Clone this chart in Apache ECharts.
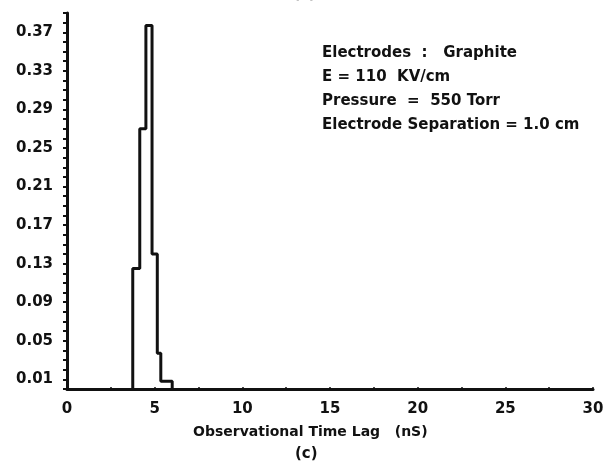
<!DOCTYPE html>
<html>
<head>
<meta charset="utf-8">
<script src="https://cdn.jsdelivr.net/npm/echarts@6/dist/echarts.min.js"></script>
<style>
html, body { margin: 0; padding: 0; background: #fff; }
#chart { width: 609px; height: 473px; }
</style>
</head>
<body>
<div id="chart"></div>
<script>
// histogram bins, observational time lag (nS)
var binEdges = [3.75, 4.15, 4.5, 4.85, 5.15, 5.35, 6.0];
var binValues = [0.125, 0.27, 0.377, 0.14, 0.037, 0.008];
var yTickLabels = [0.01, 0.05, 0.09, 0.13, 0.17, 0.21, 0.25, 0.29, 0.33, 0.37];
var xTickLabels = [0, 5, 10, 15, 20, 25, 30];
var notes = [
	'Electrodes  :   Graphite',
	'E = 110  KV/cm',
	'Pressure  =  550 Torr',
	'Electrode Separation = 1.0 cm'
];

// outline of the histogram
var outline = [[binEdges[0], 0]];
for (var i = 0; i < binValues.length; i++) {
	outline.push([binEdges[i], binValues[i]]);
	outline.push([binEdges[i + 1], binValues[i]]);
}
outline.push([binEdges[binEdges.length - 1], 0]);

var font = 'DejaVu Sans';
var chart = echarts.init(document.getElementById('chart'));

var noteText = notes.map(function (t, i) {
	return {
		type: 'text',
		left: 322,
		top: 46 + i * 24,
		style: { text: t, font: 'bold 15px "' + font + '"', fill: '#111' }
	};
});

option = {
	backgroundColor: '#fff',
	animation: false,
	grid: { left: 67, right: 16, top: 13, bottom: 84, containLabel: false },
	xAxis: {
		type: 'value',
		min: 0,
		max: 30,
		interval: 5,
		axisLine: { lineStyle: { color: '#111', width: 3 } },
		axisTick: { show: true, inside: true, length: 2, lineStyle: { color: '#111', width: 1.5 } },
		minorTick: { show: true, splitNumber: 2, length: 2, lineStyle: { color: '#111', width: 1.5 } },
		splitLine: { show: false },
		axisLabel: {
			margin: 13,
			color: '#111',
			fontFamily: font,
			fontWeight: 'bold',
			fontSize: 15,
			formatter: function (v) {
				return xTickLabels.indexOf(v) >= 0 ? String(v) : '';
			}
		}
	},
	yAxis: {
		type: 'value',
		min: 0,
		max: 0.39,
		interval: 0.01,
		axisLine: { show: true, lineStyle: { color: '#111', width: 3 } },
		axisTick: { show: true, length: 4, lineStyle: { color: '#111', width: 2 } },
		splitLine: { show: false },
		axisLabel: {
			margin: 14,
			color: '#111',
			fontFamily: font,
			fontWeight: 'bold',
			fontSize: 15,
			formatter: function (v) {
				for (var k = 0; k < yTickLabels.length; k++) {
					if (Math.abs(v - yTickLabels[k]) < 1e-6) return yTickLabels[k].toFixed(2);
				}
				return '';
			}
		}
	},
	series: [{
		type: 'line',
		data: outline,
		symbol: 'none',
		lineStyle: { color: '#111', width: 3 }
	}],
	graphic: noteText.concat([
		{
			type: 'text',
			left: 'center',
			top: -13,
			x: -6,
			style: { text: '(c)', font: 'bold 15px "' + font + '"', fill: '#111' }
		},
		{
			type: 'text',
			left: 193,
			top: 425,
			style: { text: 'Observational Time Lag   (nS)', font: 'bold 14px "' + font + '"', fill: '#111' }
		},
		{
			type: 'text',
			left: 295,
			top: 447,
			style: { text: '(c)', font: 'bold 15px "' + font + '"', fill: '#111' }
		}
	])
};
chart.setOption(option);
</script>
</body>
</html>
